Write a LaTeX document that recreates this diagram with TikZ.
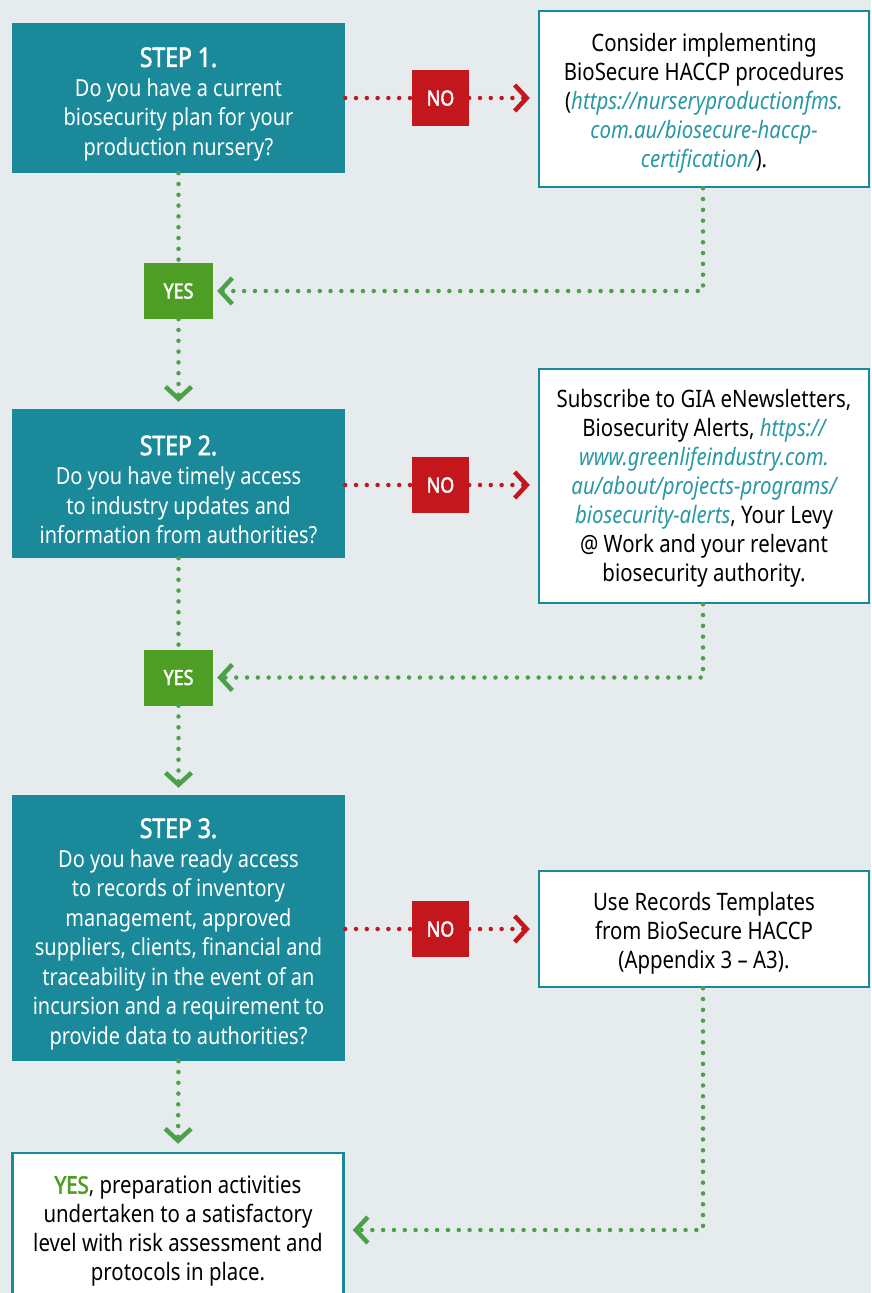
\documentclass[tikz,border=0pt]{standalone}
\usepackage{fontspec}
\setmainfont{Noto Sans}[FakeStretch=0.85, BoldFont={Noto Sans}, BoldFeatures={FakeBold=2.2}]
\usetikzlibrary{arrows.meta}
\definecolor{bgcol}{HTML}{E6EBEE}
\definecolor{stepteal}{HTML}{1A8A9A}
\definecolor{nored}{HTML}{C4171D}
\definecolor{yesgreen}{HTML}{4E9E26}
\definecolor{dotgreen}{HTML}{4CA048}
\definecolor{linkteal}{HTML}{2A98A5}
\newcommand\lnk[1]{{\color{linkteal}\itshape #1}}
\newcommand\pad[1]{\rule{0pt}{#1}}
\begin{document}
\begin{tikzpicture}[x=1pt,y=-1pt,
  stepbox/.style={fill=stepteal, text=white, minimum width=333pt, inner sep=0pt, align=center,
    font=\fontsize{23.5}{29.5}\selectfont},
  infobox/.style={fill=white, draw=stepteal, line width=2.5pt, minimum width=330pt, inner sep=0pt,
    align=center, text=black, font=\fontsize{24}{29}\selectfont},
  nobox/.style={fill=nored, text=white, minimum width=57pt, minimum height=56pt, inner sep=0pt,
    font=\fontsize{21}{24}\selectfont\bfseries},
  yesbox/.style={fill=yesgreen, text=white, minimum width=69pt, minimum height=56pt, inner sep=0pt,
    font=\fontsize{21}{24}\selectfont\bfseries},
  nolink/.style={draw=nored, line width=4.5pt, line cap=round, dash pattern=on 0pt off 10.8pt},
  yeslink/.style={draw=dotgreen, line width=4.5pt, line cap=round, dash pattern=on 0pt off 10.8pt},
  chev/.style={-{Straight Barb[length=12pt,width=26pt,line width=4.5pt]}}
]
\fill[bgcol] (0,0) rectangle (871,1293);
\useasboundingbox (0,0) rectangle (871,1293);

% Step nodes
\node[stepbox, minimum height=150pt] (s1) at (178.5,98)
  {\pad{32pt}{\fontsize{27}{31}\selectfont\bfseries STEP 1.}\\Do you have a current\\biosecurity plan for your\\production nursery?};
\node[stepbox, minimum height=149pt] (s2) at (178.5,483.5)
  {\pad{32pt}{\fontsize{27}{31}\selectfont\bfseries STEP 2.}\\Do you have timely access\\to industry updates and\\information from authorities?};
\node[stepbox, minimum height=266pt] (s3) at (178.5,928)
  {\pad{32pt}{\fontsize{27}{31}\selectfont\bfseries STEP 3.}\\Do you have ready access\\to records of inventory\\management, approved\\suppliers, clients, financial and\\traceability in the event of an\\incursion and a requirement to\\provide data to authorities?};

% NO nodes
\node[nobox] (n1) at (440.5,98) {NO};
\node[nobox] (n2) at (440.5,485) {NO};
\node[nobox] (n3) at (440.5,929) {NO};

% YES nodes
\node[yesbox] (y1) at (178.5,291) {YES};
\node[yesbox] (y2) at (178.5,677.5) {YES};

% Info boxes
\node[infobox, minimum height=176pt] (r1) at (704,99)
  {\pad{26pt}Consider implementing\\BioSecure HACCP procedures\\(\lnk{https://nurseryproductionfms.}\\\lnk{com.au/biosecure-haccp-}\\\lnk{certification/}).};
\node[infobox, minimum height=234pt] (r2) at (704,486)
  {\pad{22pt}Subscribe to GIA eNewsletters,\\Biosecurity Alerts, \lnk{https://}\\\lnk{www.greenlifeindustry.com.}\\\lnk{au/about/projects-programs/}\\\lnk{biosecurity-alerts}, Your Levy\\@ Work and your relevant\\biosecurity authority.};
\node[infobox, minimum height=116pt] (r3) at (704,929)
  {\pad{26pt}Use Records Templates\\from BioSecure HACCP\\(Appendix 3 -- A3).};
\node[infobox, minimum width=331pt, minimum height=152pt] (fin) at (178,1229)
  {\pad{22pt}{\color{yesgreen}\bfseries YES}, preparation activities\\undertaken to a satisfactory\\level with risk assessment and\\protocols in place.};

% NO connectors
\draw[nolink] (s1.east) -- (n1.west);
\draw[nolink, chev, shorten >=8pt] (n1.east) -- (r1.west |- n1.east);
\draw[nolink] (s2.east |- n2.west) -- (n2.west);
\draw[nolink, chev, shorten >=8pt] (n2.east) -- (r2.west |- n2.east);
\draw[nolink] (s3.east |- n3.west) -- (n3.west);
\draw[nolink, chev, shorten >=8pt] (n3.east) -- (r3.west |- n3.east);

% YES connectors
\draw[yeslink] (s1.south) -- (y1.north);
\draw[yeslink, chev, shorten >=7pt] (y1.south) -- (s2.north);
\draw[yeslink] (s2.south) -- (y2.north);
\draw[yeslink, chev, shorten >=7pt] (y2.south) -- (s3.north);
\draw[yeslink, chev, shorten >=8pt] (s3.south) -- (fin.north);

% return connectors
\draw[yeslink, chev, shorten >=4pt] ([xshift=-1pt]r1.south) |- (y1.east);
\draw[yeslink, chev, shorten >=4pt] ([xshift=-1pt]r2.south) |- (y2.east);
\draw[yeslink, chev, shorten >=8pt] ([xshift=-1pt]r3.south) |- ([yshift=-1pt]fin.east);
\end{tikzpicture}
\end{document}
